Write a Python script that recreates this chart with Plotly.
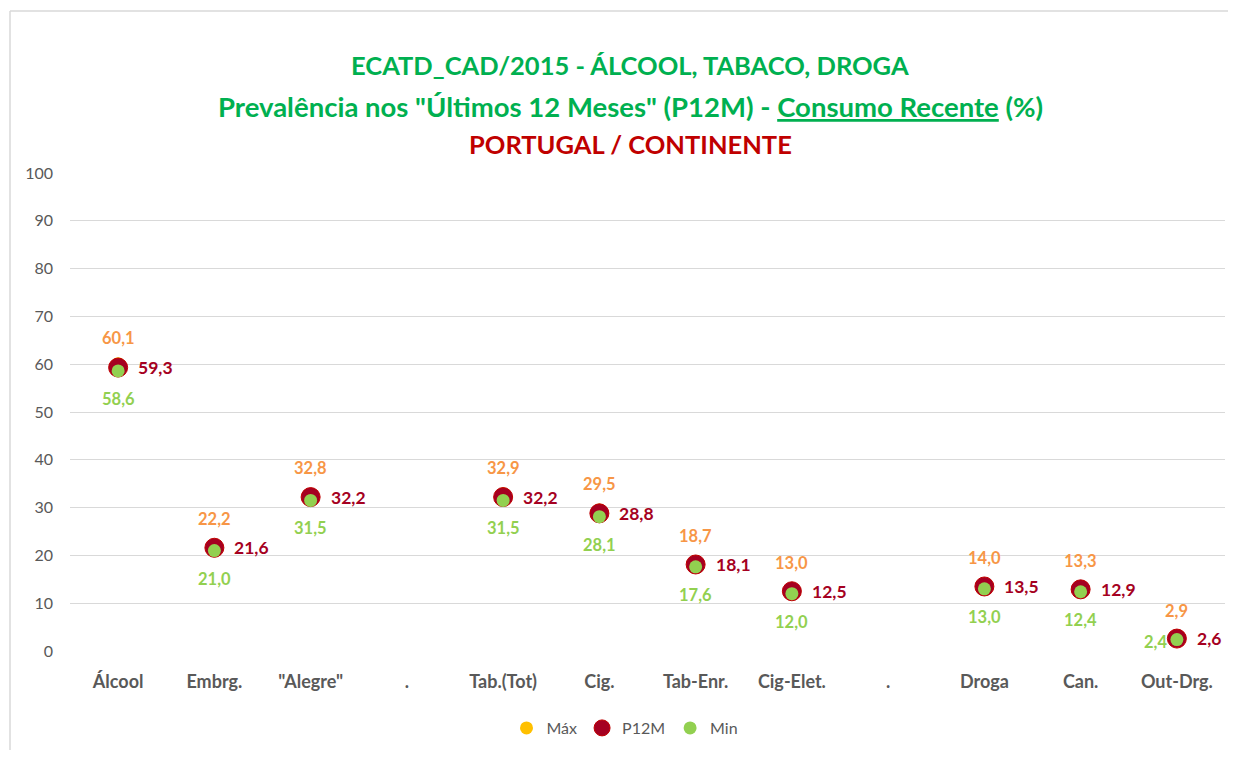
import plotly.graph_objects as go

categories = ["Álcool", "Embrg.", "\"Alegre\"", ".", "Tab.(Tot)", "Cig.", "Tab-Enr.",
              "Cig-Elet.", ".", "Droga", "Can.", "Out-Drg."]
maximo = [60.1, 22.2, 32.8, None, 32.9, 29.5, 18.7, 13.0, None, 14.0, 13.3, 2.9]
p12m = [59.3, 21.6, 32.2, None, 32.2, 28.8, 18.1, 12.5, None, 13.5, 12.9, 2.6]
minimo = [58.6, 21.0, 31.5, None, 31.5, 28.1, 17.6, 12.0, None, 13.0, 12.4, 2.4]
y_ticks = [0, 10, 20, 30, 40, 50, 60, 70, 80, 90, 100]

FONT = "Lato"
xs = list(range(len(categories)))

# page geometry (browser body has 8px margin)
OFF = 8
W, H = 1220, 742
PL, PR, PT, PB = 70, 1225, 173, 651   # plot area in page pixels
L = PL - OFF
T = PT - OFF
R = W - (PR - OFF)
B = H - (PB - OFF)
PW = PR - PL
PH = PB - PT


def px_x(page_x):
    return (page_x - PL) / PW


def px_y(page_y):
    return (PB - page_y) / PH


def fmt(v):
    return f"{v:.1f}".replace(".", ",")


fig = go.Figure()
fig.add_trace(go.Scatter(x=xs, y=maximo, mode="markers", name="Máx",
                         marker=dict(color="#FFC000", size=13, symbol="circle")))
fig.add_trace(go.Scatter(x=xs, y=p12m, mode="markers", name="P12M",
                         marker=dict(color="#A50021", size=19, symbol="circle",
                                     line=dict(color="#C00000", width=1))))
fig.add_trace(go.Scatter(x=xs, y=minimo, mode="markers", name="Min",
                         marker=dict(color="#92D050", size=13, symbol="circle")))

ann = []
last = len(categories) - 1
for i in xs:
    if maximo[i] is not None:
        ann.append(dict(x=i, y=maximo[i], xref="x", yref="y", text=f"<b>{fmt(maximo[i])}</b>",
                        showarrow=False, yshift=26, font=dict(family=FONT, size=16.5, color="#F79646")))
    if p12m[i] is not None:
        ann.append(dict(x=i, y=p12m[i], xref="x", yref="y", text=f"<b>{fmt(p12m[i])}</b>",
                        showarrow=False, xanchor="left", xshift=18,
                        font=dict(family=FONT, size=17.5, color="#A50021")))
    if minimo[i] is not None:
        if i == last:
            ann.append(dict(x=i, y=minimo[i], xref="x", yref="y", text=f"<b>{fmt(minimo[i])}</b>",
                            showarrow=False, xshift=-21, yshift=-2,
                            font=dict(family=FONT, size=16.5, color="#92D050")))
        else:
            ann.append(dict(x=i, y=minimo[i], xref="x", yref="y", text=f"<b>{fmt(minimo[i])}</b>",
                            showarrow=False, yshift=-28,
                            font=dict(family=FONT, size=16.5, color="#92D050")))

title_x = px_x(630)
ann.append(dict(x=title_x, y=px_y(48), xref="paper", yref="paper", showarrow=False,
                text="<b>ECATD_CAD/2015 - ÁLCOOL, TABACO, DROGA</b>",
                font=dict(family=FONT, size=25.5, color="#00B050")))
ann.append(dict(x=title_x, y=px_y(88), xref="paper", yref="paper", showarrow=False,
                text="<b>Prevalência nos \"Últimos 12 Meses\" (P12M) - <u>Consumo Recente</u> (%)</b>",
                font=dict(family=FONT, size=27.5, color="#00B050")))
ann.append(dict(x=title_x, y=px_y(127), xref="paper", yref="paper", showarrow=False,
                text="<b>PORTUGAL / CONTINENTE</b>",
                font=dict(family=FONT, size=25.5, color="#C00000")))

border = dict(color="#D9D9D9", width=1.5)
fig.update_layout(
    width=W, height=H,
    paper_bgcolor="white", plot_bgcolor="white",
    margin=dict(l=L, r=R, t=T, b=B, pad=0),
    showlegend=True,
    legend=dict(orientation="h", x=px_x(625), xanchor="center", y=px_y(728), yanchor="middle",
                font=dict(family=FONT, size=16, color="#595959"), itemwidth=30,
                tracegroupgap=0),
    xaxis=dict(tickvals=xs, ticktext=[f"<b>{c}</b>" for c in categories],
               range=[-0.5, len(categories) - 0.5], showgrid=False, zeroline=False,
               showline=False, ticks="", ticklabelstandoff=18,
               tickfont=dict(family=FONT, size=18, color="#595959")),
    yaxis=dict(range=[0, 100], tickvals=y_ticks, showgrid=True, gridcolor="#D9D9D9",
               gridwidth=1, zeroline=False, showline=False, ticks="", ticklabelstandoff=16,
               tickfont=dict(family=FONT, size=16, color="#595959")),
    annotations=ann,
    shapes=[
        dict(type="line", xref="paper", yref="paper",
             x0=px_x(10), x1=px_x(10), y0=px_y(760), y1=px_y(11), line=border, layer="below"),
        dict(type="line", xref="paper", yref="paper",
             x0=px_x(10), x1=px_x(1240), y0=px_y(11), y1=px_y(11), line=border, layer="below"),
    ],
)

fig.write_html("out.html")
